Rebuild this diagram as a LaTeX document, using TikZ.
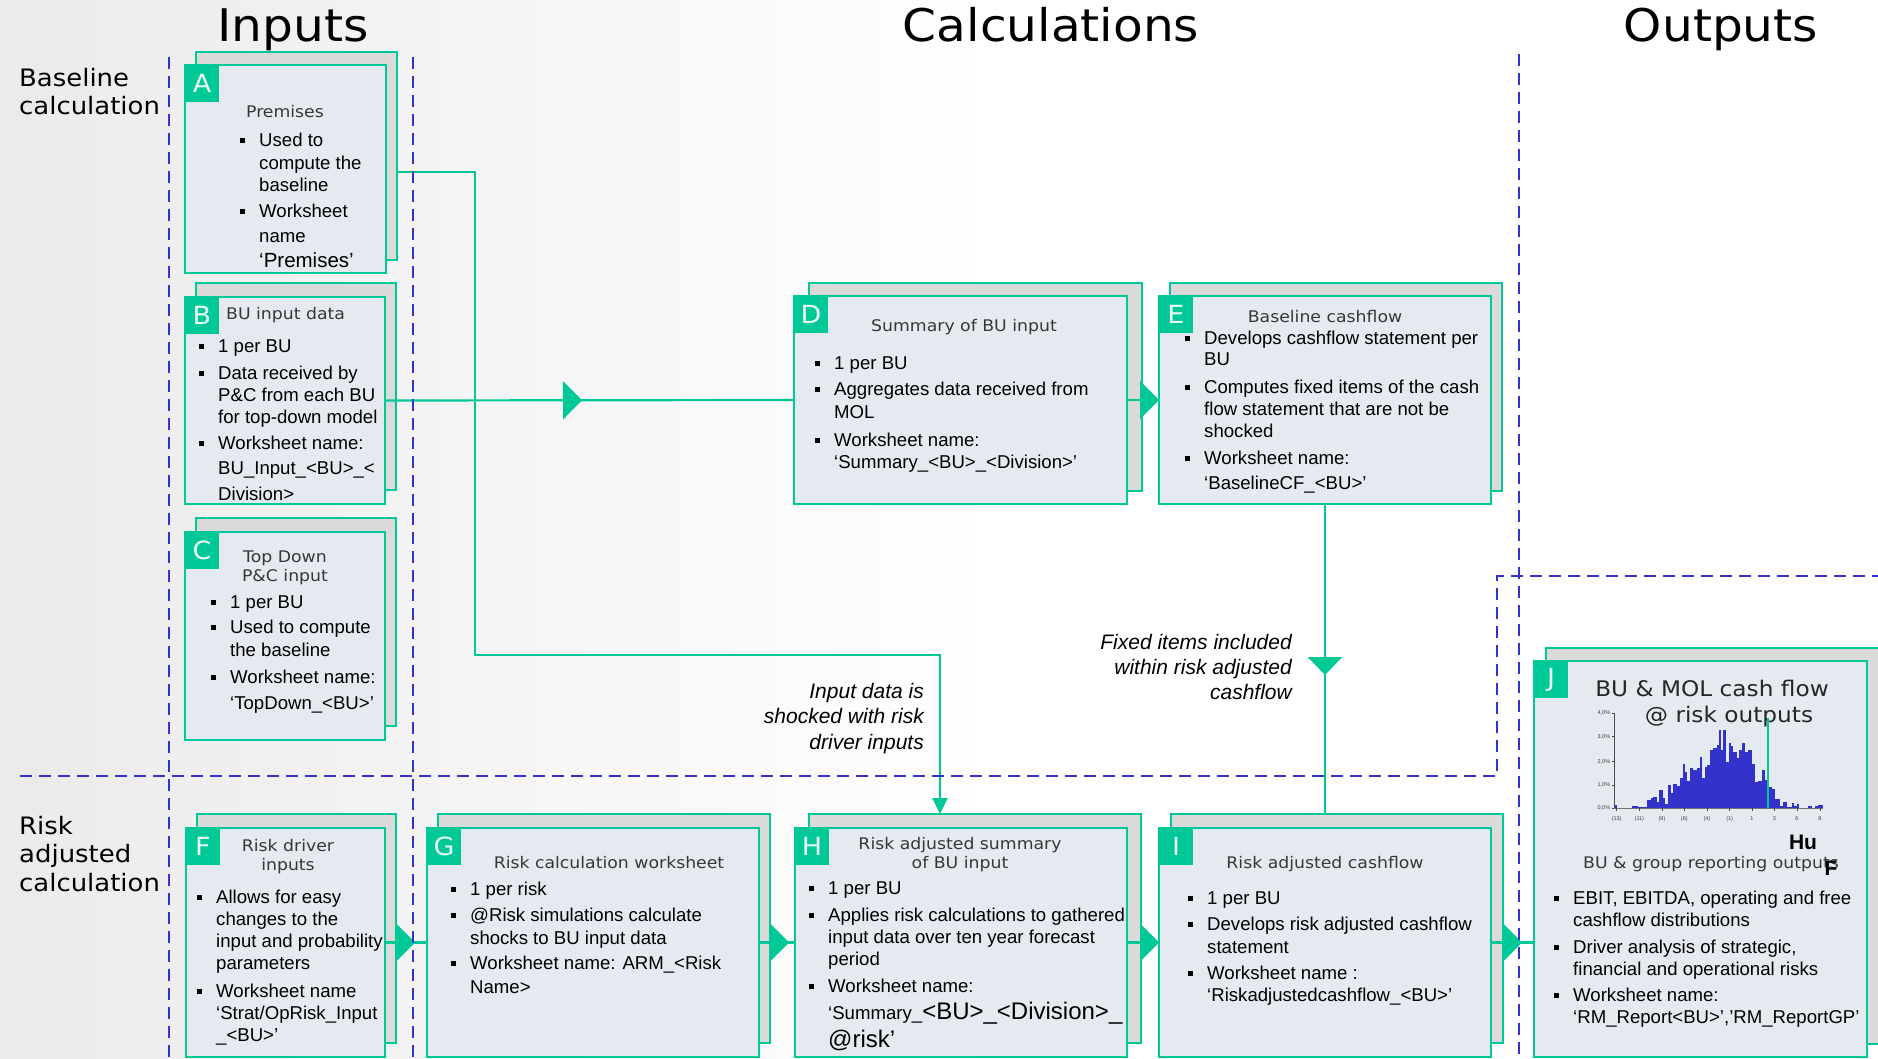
\documentclass[tikz,border=0pt]{standalone}
\usepackage{fontspec}
\setmainfont{Liberation Sans}
\newfontfamily\gfont[FakeStretch=1.08]{DejaVu Sans}
\usetikzlibrary{arrows.meta,decorations.markings}

\definecolor{grn}{RGB}{0,200,150}
\definecolor{dashblue}{RGB}{51,51,204}
\definecolor{barblue}{RGB}{51,51,204}
\definecolor{frontfill}{RGB}{229,233,240}
\definecolor{backfill}{RGB}{218,218,218}
\definecolor{cardtitle}{RGB}{55,55,55}

\newcommand\fBody{\fontsize{18.6}{22}\selectfont}
\newcommand\fBig{\fontsize{24}{26}\selectfont}
\newcommand\fMid{\fontsize{20.5}{22}\selectfont}
\newcommand\fHead{\gfont\fontsize{45}{50}\selectfont}
\newcommand\fSide{\gfont\fontsize{24}{28}\selectfont}
\newcommand\fCard{\gfont\fontsize{16}{19}\selectfont}
\newcommand\fCardBig{\gfont\fontsize{21.5}{24}\selectfont}
\newcommand\fTag{\gfont\fontsize{25}{28}\selectfont}
\newcommand\fNote{\fontsize{21}{25}\selectfont\itshape}
\newcommand\fTiny{\fontsize{5.5}{6}\selectfont}

% card: name, letter, front x1, y1, x2, y2, back x1, back y1
\newcommand\card[8]{%
  \node[backbox, anchor=north west, minimum width=#5-#3, minimum height=#6-#4] (#1back) at (#7,#8) {};
  \node[frontbox, anchor=north west, minimum width=#5-#3, minimum height=#6-#4] (#1) at (#3,#4) {};
  \node[tagbox, anchor=north west] (#1tag) at (#3,#4) {#2};
}
% bullet item: text x, first baseline, line skip, lines
\newcommand\bitem[4]{%
  \fill (#1-19.5,#2-8.5) rectangle ++(5,5);
  \foreach \lineText [count=\lineNo from 0] in {#4}{\node[btext] at (#1,#2+\lineNo*#3) {\lineText};}%
}
% plain stack of lines: style, x, first baseline, skip, lines
\newcommand\textlines[5]{%
  \foreach \lineText [count=\lineNo from 0] in {#5}{\node[#1] at (#2,#3+\lineNo*#4) {\lineText};}%
}

\begin{document}
\begin{tikzpicture}[x=1pt, y=-1pt,
  backbox/.style={draw=grn, fill=backfill, line width=2.5pt, inner sep=0pt, outer sep=0pt},
  frontbox/.style={draw=grn, fill=frontfill, line width=2.5pt, inner sep=0pt, outer sep=0pt},
  tagbox/.style={fill=grn, inner sep=0pt, outer sep=0pt, minimum width=34pt, minimum height=37pt,
    text=white!92!grn, font=\fTag},
  conn/.style={color=grn, line width=2.2pt},
  midarrow/.style={postaction={decorate}, decoration={markings,
    mark=at position #1 with {\arrow{Triangle[length=19pt,width=38pt]}}}},
  downarrow/.style={postaction={decorate}, decoration={markings,
    mark=at position #1 with {\arrow{Triangle[length=18pt,width=34pt]}}}},
  divider/.style={draw=dashblue, line width=2.5pt, dash pattern=on 12pt off 7pt},
  btext/.style={anchor=base west, inner sep=0pt, font=\fBody},
  ctitle/.style={anchor=base, inner sep=0pt, font=\fCard, text=cardtitle},
  head/.style={anchor=base, inner sep=0pt, font=\fHead},
  side/.style={anchor=base west, inner sep=0pt, font=\fSide},
  note/.style={anchor=base east, inner sep=0pt, font=\fNote},
  ticklab/.style={inner sep=0pt, font=\fTiny, text=black!75}]

\useasboundingbox (0,0) rectangle (1878,1059);
\shade[left color=black!8, right color=white] (0,0) rectangle (1000,1059);

% column headings
\node[head] (hIn) at (293,42) {Inputs};
\node[head] (hCalc) at (1051,42) {Calculations};
\node[head] (hOut) at (1721,42) {Outputs};

% row headings
\textlines{side}{19}{87}{28}{Baseline,calculation}
\textlines{side}{19}{834}{28.5}{Risk,adjusted,calculation}

% cards
\card{A}{A}{185}{65}{386}{273}{196}{52}
\card{B}{B}{185}{297}{385}{504}{196}{283}
\card{C}{C}{185}{532}{385}{740}{196}{518}
\card{D}{D}{794}{296}{1127}{504}{809}{283}
\card{E}{E}{1159}{296}{1491}{504}{1170}{283}
\card{F}{F}{186}{828}{385}{1057}{197}{814}
\card{G}{G}{427}{828}{759}{1057}{438}{814}
\card{H}{H}{795}{828}{1127}{1057}{809}{814}
\card{I}{I}{1159}{828}{1491}{1057}{1171}{814}
\card{J}{J}{1534}{661}{1867}{1057}{1546}{648}

% A: premises
\node[ctitle] (Atitle) at (285,118) {Premises};
\bitem{259}{147}{22.5}{Used to,compute the,baseline}
\bitem{259}{218}{25}{Worksheet,name,{\fMid ‘Premises’}}

% B: BU input data
\node[ctitle, anchor=base west] (Btitle) at (226,319) {BU input data};
\bitem{218}{352}{22}{1 per BU}
\bitem{218}{379}{22}{Data received by,P\&C from each BU,for top-down model}
\bitem{218}{449}{25.5}{Worksheet name:,BU\_Input\_<BU>\_<,Division>}

% C: top down input
\textlines{ctitle}{285}{562}{19.5}{Top Down,P\&C input}
\bitem{230}{608}{23}{1 per BU}
\bitem{230}{633}{23}{Used to compute,the baseline}
\bitem{230}{683}{26}{Worksheet name:,‘TopDown\_<BU>’}

% D: summary
\node[ctitle] (Dtitle) at (964,331) {Summary of BU input};
\bitem{834}{369}{23}{1 per BU}
\bitem{834}{395}{23}{Aggregates data received from,MOL}
\bitem{834}{446}{22}{Worksheet name:,‘Summary\_<BU>\_<Division>’}

% E: baseline cashflow
\node[ctitle] (Etitle) at (1325,322) {Baseline cashflow};
\bitem{1204}{344}{21.5}{Develops cashflow statement per,BU}
\bitem{1204}{393}{22}{Computes fixed items of the cash,flow statement that are not be,shocked}
\bitem{1204}{464}{25}{Worksheet name:,‘BaselineCF\_<BU>’}

% F: risk drivers
\textlines{ctitle}{288}{851}{19}{Risk driver,inputs}
\bitem{216}{903}{22}{Allows for easy,changes to the,input and probability,parameters}
\bitem{216}{997}{22}{Worksheet name,{‘Strat/OpRisk\_Input},\_<BU>’}

% G: risk calculation
\node[ctitle] (Gtitle) at (609,868) {Risk calculation worksheet};
\bitem{470}{895}{23}{1 per risk}
\bitem{470}{921}{23}{@Risk simulations calculate,shocks to BU input data}
\bitem{470}{969}{24}{Worksheet name: ARM\_<Risk,Name>}

% H: risk adjusted summary
\textlines{ctitle}{960}{849}{19}{Risk adjusted summary,of BU input}
\bitem{828}{894}{22}{1 per BU}
\bitem{828}{921}{22}{Applies risk calculations to gathered,input data over ten year forecast,period}
\bitem{828}{992}{27.5}{Worksheet name:,{‘Summary\_{\fBig <BU>\_<Division>\_}},{{\fBig @risk’}}}

% I: risk adjusted cashflow
\node[ctitle] (Ititle) at (1325,868) {Risk adjusted cashflow};
\bitem{1207}{904}{23}{1 per BU}
\bitem{1207}{930}{23}{Develops risk adjusted cashflow,statement}
\bitem{1207}{979}{22}{Worksheet name :,‘Riskadjustedcashflow\_<BU>’}

% J: outputs
\node[ctitle, font=\fCardBig, text=black!85] (Jtitle1) at (1712,696) {BU \& MOL cash flow};
\node[ctitle, font=\fCardBig, text=black!85] (Jtitle2) at (1729,722) {@ risk outputs};
\begin{scope}[shift={(1500,560)}, scale=1/3]
  \foreach \xa/\xb/\hh in {345/350/10, 395/415/8, 415/440/5, 440/452/26, 452/460/30, 460/470/33,
      470/478/20, 478/488/55, 488/495/30, 495/505/12, 505/512/70, 512/520/45, 520/530/72,
      530/540/66, 540/548/90, 548/555/133, 555/562/110, 562/570/82, 570/580/120, 580/590/115,
      590/600/120, 600/607/155, 607/615/92, 615/622/125, 622/630/130, 630/640/175, 640/650/182,
      650/657/190, 657/662/235, 662/668/175, 668/678/235, 678/688/140, 688/694/195, 694/700/188,
      700/710/170, 710/718/150, 718/725/175, 725/735/195, 735/745/170, 745/755/175, 755/765/132,
      765/775/80, 775/785/82, 785/795/115, 795/805/85, 805/815/65, 815/825/57, 825/840/28,
      840/848/6, 848/862/20, 862/875/4, 875/882/15, 882/890/6, 890/898/12, 925/935/8,
      945/955/8, 955/968/10}
    {\fill[barblue] (\xa,745) rectangle (\xb,745-\hh);}
  \draw[black!70, line width=0.5pt] (343,460) -- (343,745);
  \draw[black!55, line width=1.2pt] (343,745) -- (968,745);
  \foreach \yy/\lab in {460/{4,0\%}, 530/{3,0\%}, 605/{2,0\%}, 675/{1,0\%}, 745/{0,0\%}}
    {\draw[black!70, line width=0.4pt] (336,\yy) -- (343,\yy);
     \node[ticklab, anchor=east] at (331,\yy) {\lab};}
  \foreach \xx/\lab in {350/(13), 418/(11), 486/(9), 553/(6), 621/(4), 689/(1), 756/1, 823/3, 891/6, 960/8}
    {\draw[black!70, line width=0.4pt] (\xx,745) -- (\xx,752);
     \node[ticklab] at (\xx,777) {\lab};}
  \draw[grn, line width=2pt] (805,475) -- (805,745);
\end{scope}
\node[inner sep=0pt, anchor=base, font=\bfseries\fontsize{21}{24}\selectfont] (hu) at (1803,849) {Hu};
\node[ctitle, anchor=base west] (Jtitle3) at (1583,868) {BU \& group reporting outputs};
\node[inner sep=0pt, anchor=base, font=\bfseries\fontsize{21}{24}\selectfont] (fmark) at (1831,875) {F};
\bitem{1573}{904}{22}{{EBIT, EBITDA, operating and free},cashflow distributions}
\bitem{1573}{953}{22}{{Driver analysis of strategic,},financial and operational risks}
\bitem{1573}{1001}{22.5}{Worksheet name:,{‘RM\_Report<BU>’,’RM\_ReportGP’}}

% connector notes
\textlines{note}{924}{698}{25.5}{Input data is,shocked with risk,driver inputs}
\textlines{note}{1292}{649}{25}{Fixed items included,within risk adjusted,cashflow}

% connectors
\coordinate (bendAH) at (475,655);
\draw[conn, -{Triangle[length=16pt,width=15pt]}] ([yshift=-16pt]Aback.east) -| (bendAH) -| ([xshift=-35pt]Hback.north);
\draw[conn, midarrow=197pt] (B.east) -- (D.west);
\draw[conn, -{Triangle[length=19pt,width=38pt]}] (D.east) -- (E.west);
\draw[conn, downarrow=171pt] (E.south) -- (E.south |- Iback.north);
\draw[conn, midarrow=30pt] (F.east) -- (G.west);
\draw[conn, midarrow=30pt] (G.east) -- (H.west);
\draw[conn, -{Triangle[length=19pt,width=38pt]}] (H.east) -- (I.west);
\draw[conn, midarrow=31pt] (I.east) -- (I.east -| J.west);

% section dividers
\draw[divider] (169,57) -- (169,1059);
\draw[divider] (413,57) -- (413,1059);
\draw[divider] (1519,54) -- (1519,1059);
\draw[divider] (20,776) -- (1497,776) -- (1497,576) -- (1878,576);
\end{tikzpicture}
\end{document}
